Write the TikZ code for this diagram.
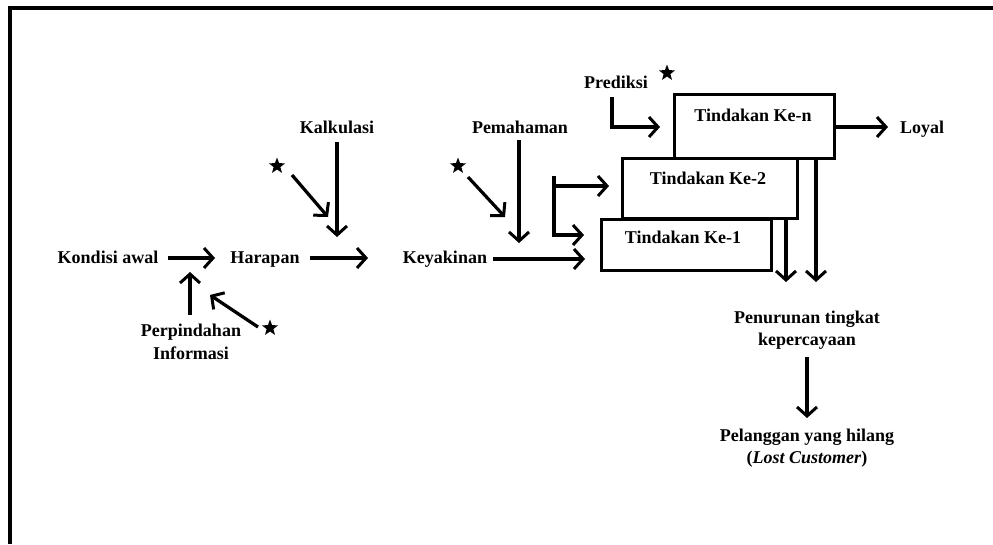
\documentclass[tikz,border=0pt]{standalone}
\usepackage{fontspec}
\setmainfont{Liberation Serif}
\usetikzlibrary{arrows.meta,shapes.geometric}
\begin{document}
\begin{tikzpicture}[x=1pt,y=-1pt,
  lbl/.style={font=\fontsize{18}{22.5}\selectfont\bfseries, inner sep=0pt, align=center},
  bl/.style={lbl, anchor=base},
  arr/.style={line width=3.2pt, line join=miter, -{Straight Barb[length=9pt,width=20pt,line width=3pt]}},
  tbox/.style={draw, line width=3pt, fill=white, anchor=north west, inner sep=0pt},
  starmark/.style={star, star points=5, star point ratio=2.4, fill=black, inner sep=0pt, minimum size=17pt}
]
\useasboundingbox (0,0) rectangle (993,544);
% frame
\draw[line width=3.2pt] (10,544) -- (10,8) -- (993,8);

% text nodes
\node[bl] (kondisi) at (108,263) {Kondisi awal};
\node[bl] (harapan) at (265,263) {Harapan};
\node[bl] (keyakinan) at (445,263) {Keyakinan};
\node[lbl] (perpindahan) at (191,342) {Perpindahan\\Informasi};
\node[bl] (kalkulasi) at (337,133) {Kalkulasi};
\node[bl] (pemahaman) at (520,133) {Pemahaman};
\node[bl] (prediksi) at (616,88) {Prediksi};
\node[bl] (loyal) at (922,133) {Loyal};
\node[lbl] (penurunan) at (807,330) {Penurunan tingkat\\kepercayaan};
\node[lbl] (pelanggan) at (807,448) {Pelanggan yang hilang\\(\textit{Lost Customer})};

% stars
\node[starmark] (s1) at (270,328) {};
\node[starmark] (s2) at (277,166) {};
\node[starmark] (s3) at (458,166) {};
\node[starmark] (s4) at (667,73) {};

% boxes
\node[tbox, minimum width=160pt, minimum height=64pt] (kn) at (673,93) {};
\node[tbox, minimum width=175pt, minimum height=60pt] (k2) at (621,157) {};
\node[tbox, minimum width=170pt, minimum height=51pt] (k1) at (600,218) {};
\node[bl] (tkn) at (753,121) {Tindakan Ke-n};
\node[bl] (tk2) at (708,184) {Tindakan Ke-2};
\node[bl] (tk1) at (683,243) {Tindakan Ke-1};

% connector end points
\coordinate (a1s) at (168,258); \coordinate (a1e) at (215,258);
\coordinate (a2s) at (310,258); \coordinate (a2e) at (368,258);
\coordinate (a3s) at (493,259); \coordinate (a3e) at (585,259);
\coordinate (a4s) at (190,315); \coordinate (a4e) at (190,272);
\coordinate (a5s) at (258,327); \coordinate (a5e) at (210,295);
\coordinate (a6s) at (337,142); \coordinate (a6e) at (337,237);
\coordinate (a7s) at (292,175); \coordinate (a7e) at (328,217);
\coordinate (a8s) at (519,140); \coordinate (a8e) at (519,243);
\coordinate (a9s) at (468,177); \coordinate (a9e) at (505,217);
\coordinate (b1) at (554,176); \coordinate (b2) at (554,186);
\coordinate (b3) at (554,235); \coordinate (b2e) at (609,186);
\coordinate (b3e) at (584,235);
\coordinate (p1) at (612,97); \coordinate (p2) at (612,127); \coordinate (p3) at (660,127);
\coordinate (l1) at (833,127); \coordinate (l2) at (888,127);
\coordinate (d1s) at (786,217); \coordinate (d1e) at (786,282);
\coordinate (d2s) at (816,157); \coordinate (d2e) at (816,282);
\coordinate (d3s) at (807,357); \coordinate (d3e) at (807,418);

% connectors
\draw[arr] (a1s) -- (a1e);
\draw[arr] (a2s) -- (a2e);
\draw[arr] (a3s) -- (a3e);
\draw[arr] (a4s) -- (a4e);
\draw[arr] (a5s) -- (a5e);
\draw[arr] (a6s) -- (a6e);
\draw[arr] (a7s) -- (a7e);
\draw[arr] (a8s) -- (a8e);
\draw[arr] (a9s) -- (a9e);
\draw[arr] (b1) -- (b3) -- (b3e);
\draw[arr] (b2) -- (b2e);
\draw[arr] (p1) -- (p2) -- (p3);
\draw[arr] (l1) -- (l2);
\draw[arr] (d1s) -- (d1e);
\draw[arr] (d2s) -- (d2e);
\draw[arr] (d3s) -- (d3e);
\end{tikzpicture}
\end{document}
